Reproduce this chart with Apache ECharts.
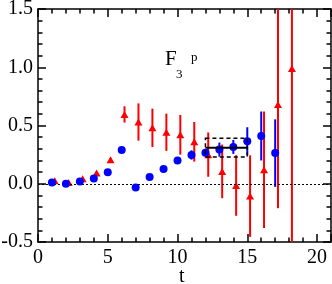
<!DOCTYPE html>
<html><head><meta charset="utf-8">
<script src="https://cdn.jsdelivr.net/npm/echarts@6/dist/echarts.min.js"></script>
<style>html,body{margin:0;padding:0;background:#fff}#c{width:332px;height:284px}</style>
</head><body><div id="c"></div>
<script>
// ---- data ----
const tBlue   = [1, 2, 3, 4, 5, 6, 7, 8, 9, 10, 11, 12, 13, 14, 15, 16, 17];
const blueVal = [0.011, 0.0, 0.02, 0.044, 0.098, 0.29, -0.033, 0.058, 0.127, 0.2, 0.247, 0.266, 0.293, 0.316, 0.365, 0.41, 0.263];
const blueErr = [0.005, 0.005, 0.005, 0.008, 0.01, 0.015, 0.02, 0.02, 0.025, 0.03, 0.04, 0.03, 0.06, 0.06, 0.12, 0.21, 0.29];

const tRed    = [1.2, 2.2, 3.2, 4.2, 5.2, 6.2, 7.2, 8.2, 9.2, 10.2, 11.2, 12.2, 13.2, 14.2, 15.2, 16.2, 17.2, 18.2];
const redVal  = [0.026, 0.011, 0.043, 0.092, 0.205, 0.595, 0.53, 0.48, 0.442, 0.42, 0.36, 0.25, 0.106, -0.015, -0.106, 0.12, 0.68, 0.99];
const redErr  = [0.005, 0.005, 0.008, 0.01, 0.015, 0.07, 0.16, 0.165, 0.16, 0.17, 0.17, 0.19, 0.23, 0.26, 0.35, 0.5, 0.89, 1.6];

const fitBand = [12, 15, 0.31, 0.08]; // t start, t end, value, error
const zeroLine = 0;

const xTicksMajor = 5, xTicksMinor = 1;
const yTicks = 0.5;
const xTitle = 't';

// ---- chart ----
const FONT = 'Liberation Serif';
const chart = echarts.init(document.getElementById('c'), null, {renderer: 'canvas'});

function errSeries(t, v, e, color, z) {
  return {
    type: 'custom', xAxisIndex: 0, yAxisIndex: 0, clip: true, z: z, silent: true,
    data: t.map((x, i) => [x, v[i], e[i]]),
    renderItem: (params, api) => {
      const x = api.value(0), y = api.value(1), er = api.value(2);
      const p1 = api.coord([x, y + er]), p2 = api.coord([x, y - er]);
      return {type: 'line', shape: {x1: p1[0], y1: p1[1], x2: p2[0], y2: p2[1]},
              style: {stroke: color, lineWidth: 2}};
    }
  };
}

const axisLineStyle = {color: '#000', width: 1.5};
function xAx(pos, interval, major) {
  return {
    type: 'value', position: pos, min: 0, max: 21, interval: interval,
    axisLine: {show: major, onZero: false, lineStyle: axisLineStyle},
    axisTick: {show: true, inside: true, length: major ? 8 : 4.5, lineStyle: axisLineStyle},
    axisLabel: {show: major && pos === 'bottom', margin: 6, color: '#000', fontFamily: FONT, fontSize: 20,
                formatter: v => (v % xTicksMajor === 0 ? String(v) : '')},
    splitLine: {show: false}
  };
}
function yAx(pos) {
  return {
    type: 'value', position: pos, min: -0.5, max: 1.5, interval: yTicks,
    axisLine: {show: true, onZero: false, lineStyle: axisLineStyle},
    axisTick: {show: true, inside: true, length: 8, lineStyle: axisLineStyle},
    minorTick: {show: true, splitNumber: 5, length: 4.5, lineStyle: axisLineStyle},
    axisLabel: {show: pos === 'left', margin: 5, color: '#000', fontFamily: FONT, fontSize: 20,
                formatter: v => v.toFixed(1)},
    splitLine: {show: false}
  };
}

chart.setOption({
  animation: false,
  backgroundColor: '#fff',
  grid: {left: 38, top: 9, width: 293, height: 233, containLabel: false, outerBoundsMode: 'none'},
  xAxis: [xAx('bottom', xTicksMajor, true), xAx('bottom', xTicksMinor, false),
          xAx('top', xTicksMajor, true), xAx('top', xTicksMinor, false)],
  yAxis: [yAx('left'), yAx('right')],
  graphic: [
    {type: 'text', left: 165, top: 49, style: {text: 'F', fontFamily: FONT, fontSize: 21, fill: '#000'}},
    {type: 'text', left: 176, top: 68, style: {text: '3', fontFamily: FONT, fontSize: 13, fill: '#000'}},
    {type: 'text', left: 191, top: 51, style: {text: 'p', fontFamily: FONT, fontSize: 13, fill: '#000'}},
    {type: 'text', left: 179, top: 267, style: {text: xTitle, fontFamily: FONT, fontSize: 20, fill: '#000'}}
  ],
  series: [
    {
      type: 'line', data: [], xAxisIndex: 0, yAxisIndex: 0, silent: true,
      markLine: {silent: true, symbol: 'none', label: {show: false}, animation: false,
                 lineStyle: {type: [2, 2], color: '#000', width: 1},
                 data: [{yAxis: zeroLine}]}
    },
    errSeries(tRed, redVal, redErr, '#ff0000', 2),
    {type: 'scatter', xAxisIndex: 0, yAxisIndex: 0, symbol: 'triangle', symbolSize: [8, 7], z: 3,
     itemStyle: {color: '#ff0000', opacity: 1}, data: tRed.map((x, i) => [x, redVal[i]])},
    errSeries(tBlue, blueVal, blueErr, '#0000ff', 4),
    {type: 'scatter', xAxisIndex: 0, yAxisIndex: 0, symbol: 'circle', symbolSize: 8, z: 5,
     itemStyle: {color: '#0000ff', opacity: 1}, data: tBlue.map((x, i) => [x, blueVal[i]])},
    {
      type: 'custom', xAxisIndex: 0, yAxisIndex: 0, z: 6, silent: true,
      data: [fitBand],
      renderItem: (params, api) => {
        const a = api.value(0), b = api.value(1), v = api.value(2), e = api.value(3);
        const tl = api.coord([a, v + e]), br = api.coord([b, v - e]);
        const l = api.coord([a, v]), r = api.coord([b, v]);
        return {type: 'group', children: [
          {type: 'rect', shape: {x: tl[0], y: tl[1], width: br[0] - tl[0], height: br[1] - tl[1]},
           style: {fill: 'none', stroke: '#000', lineWidth: 1.5, lineDash: [4, 3]}},
          {type: 'line', shape: {x1: l[0], y1: l[1], x2: r[0], y2: r[1]},
           style: {stroke: '#000', lineWidth: 2}}
        ]};
      }
    }
  ]
});
</script>
</body></html>
